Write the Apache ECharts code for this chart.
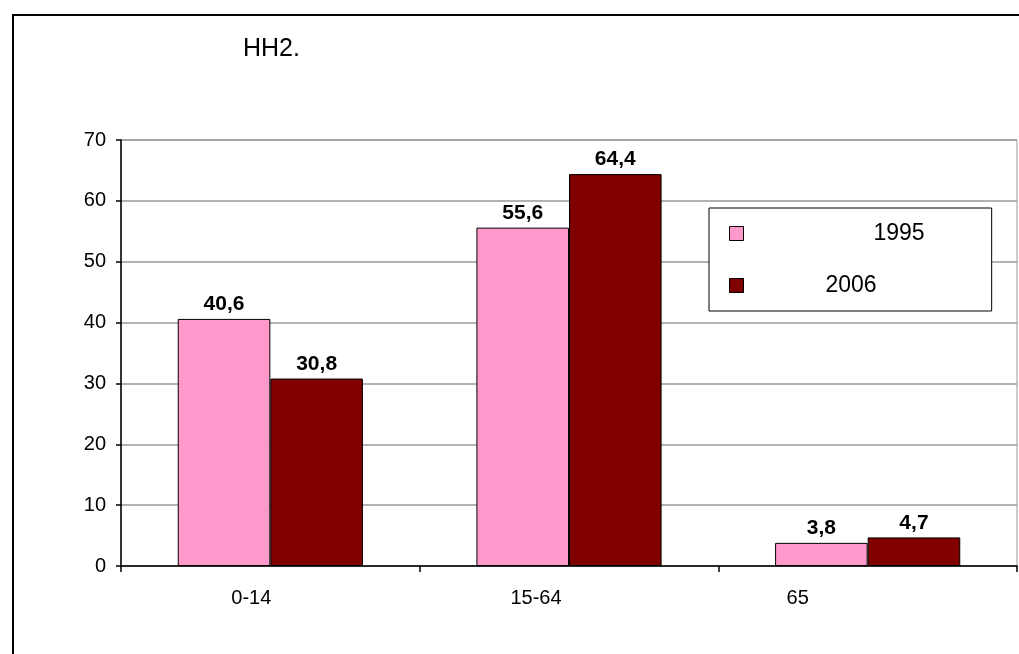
<!DOCTYPE html>
<html>
<head>
<meta charset="utf-8">
<script src="https://cdn.jsdelivr.net/npm/echarts@6/dist/echarts.min.js"></script>
<style>
  html, body { margin: 0; padding: 0; background: #fff; }
  #chart { width: 1019px; height: 654px; }
</style>
</head>
<body>
<div id="chart"></div>
<script>
var categories = ['0-14', '15-64', '65'];
var years = ['1995', '2006'];
var values1995 = [40.6, 55.6, 3.8];
var values2006 = [30.8, 64.4, 4.7];
var yTicks = [0, 10, 20, 30, 40, 50, 60, 70];

// excel puts the category labels off-centre, shift them left a bit
var labelShift = { '0-14': 38, '15-64': 66, '65': 140 };

var font = '"Liberation Sans", Arial, sans-serif';
var chart = echarts.init(document.getElementById('chart'));

function barLabel() {
  return {
    show: true,
    position: 'top',
    distance: 4,
    fontFamily: font,
    fontSize: 21,
    fontWeight: 'bold',
    color: '#000',
    formatter: function (p) { return String(p.value).replace('.', ','); }
  };
}

chart.setOption({
  backgroundColor: '#fff',
  animation: false,
  title: {
    text: 'HH2.',
    left: 243,
    top: 37,
    padding: 0,
    textStyle: { fontFamily: font, fontSize: 25, fontWeight: 'normal', color: '#000' }
  },
  graphic: [{
    type: 'rect',
    shape: { x: 13, y: 15, width: 1100, height: 700 },
    style: { fill: 'none', stroke: '#000', lineWidth: 2 },
    silent: true
  }],
  grid: {
    left: 121, top: 140, right: 2, bottom: 88,
    show: true, borderColor: '#999', borderWidth: 1
  },
  legend: {
    orient: 'vertical',
    left: 709,
    top: 208,
    padding: [14, 67, 14, 20],
    itemGap: 29,
    itemWidth: 14,
    itemHeight: 14,
    backgroundColor: '#fff',
    borderColor: '#000',
    borderWidth: 1,
    borderRadius: 0,
    data: [
      { name: '1995', icon: 'rect', itemStyle: { borderColor: '#000', borderWidth: 1 } },
      { name: '2006', icon: 'rect', itemStyle: { borderColor: '#000', borderWidth: 1 } }
    ],
    formatter: function (name) { return name === '1995' ? '{a|' + name + '}' : '{b|' + name + '}'; },
    textStyle: {
      fontFamily: font, fontSize: 23, color: '#000',
      rich: {
        a: { fontFamily: font, fontSize: 23, lineHeight: 20, padding: [0, 0, 0, 125] },
        b: { fontFamily: font, fontSize: 23, lineHeight: 20, padding: [0, 0, 0, 77] }
      }
    }
  },
  xAxis: {
    type: 'category',
    data: categories,
    axisLine: { lineStyle: { color: '#000', width: 1.5 } },
    axisTick: { show: true, length: 6, lineStyle: { color: '#000', width: 1.5 } },
    axisLabel: {
      margin: 22,
      fontFamily: font,
      fontSize: 20,
      color: '#000',
      formatter: function (v) { return '{c' + categories.indexOf(v) + '|' + v + '}'; },
      rich: {
        c0: { fontFamily: font, fontSize: 20, color: '#000', padding: [0, labelShift['0-14'], 0, 0] },
        c1: { fontFamily: font, fontSize: 20, color: '#000', padding: [0, labelShift['15-64'], 0, 0] },
        c2: { fontFamily: font, fontSize: 20, color: '#000', padding: [0, labelShift['65'], 0, 0] }
      }
    }
  },
  yAxis: {
    type: 'value',
    min: yTicks[0],
    max: yTicks[yTicks.length - 1],
    interval: yTicks[1] - yTicks[0],
    axisLine: { show: true, lineStyle: { color: '#000', width: 1.5 } },
    axisTick: { show: true, length: 5, lineStyle: { color: '#000', width: 1.5 } },
    axisLabel: { margin: 15, fontFamily: font, fontSize: 20, color: '#000' },
    splitLine: { lineStyle: { color: '#999', width: 1.5 } }
  },
  series: [
    {
      name: years[0],
      type: 'bar',
      data: values1995,
      barGap: '0%',
      barCategoryGap: '38%',
      itemStyle: { color: '#FF99CC', borderColor: '#000', borderWidth: 1 },
      label: barLabel()
    },
    {
      name: years[1],
      type: 'bar',
      data: values2006,
      barGap: '0%',
      barCategoryGap: '38%',
      itemStyle: { color: '#800000', borderColor: '#000', borderWidth: 1 },
      label: barLabel()
    }
  ]
});
</script>
</body>
</html>
